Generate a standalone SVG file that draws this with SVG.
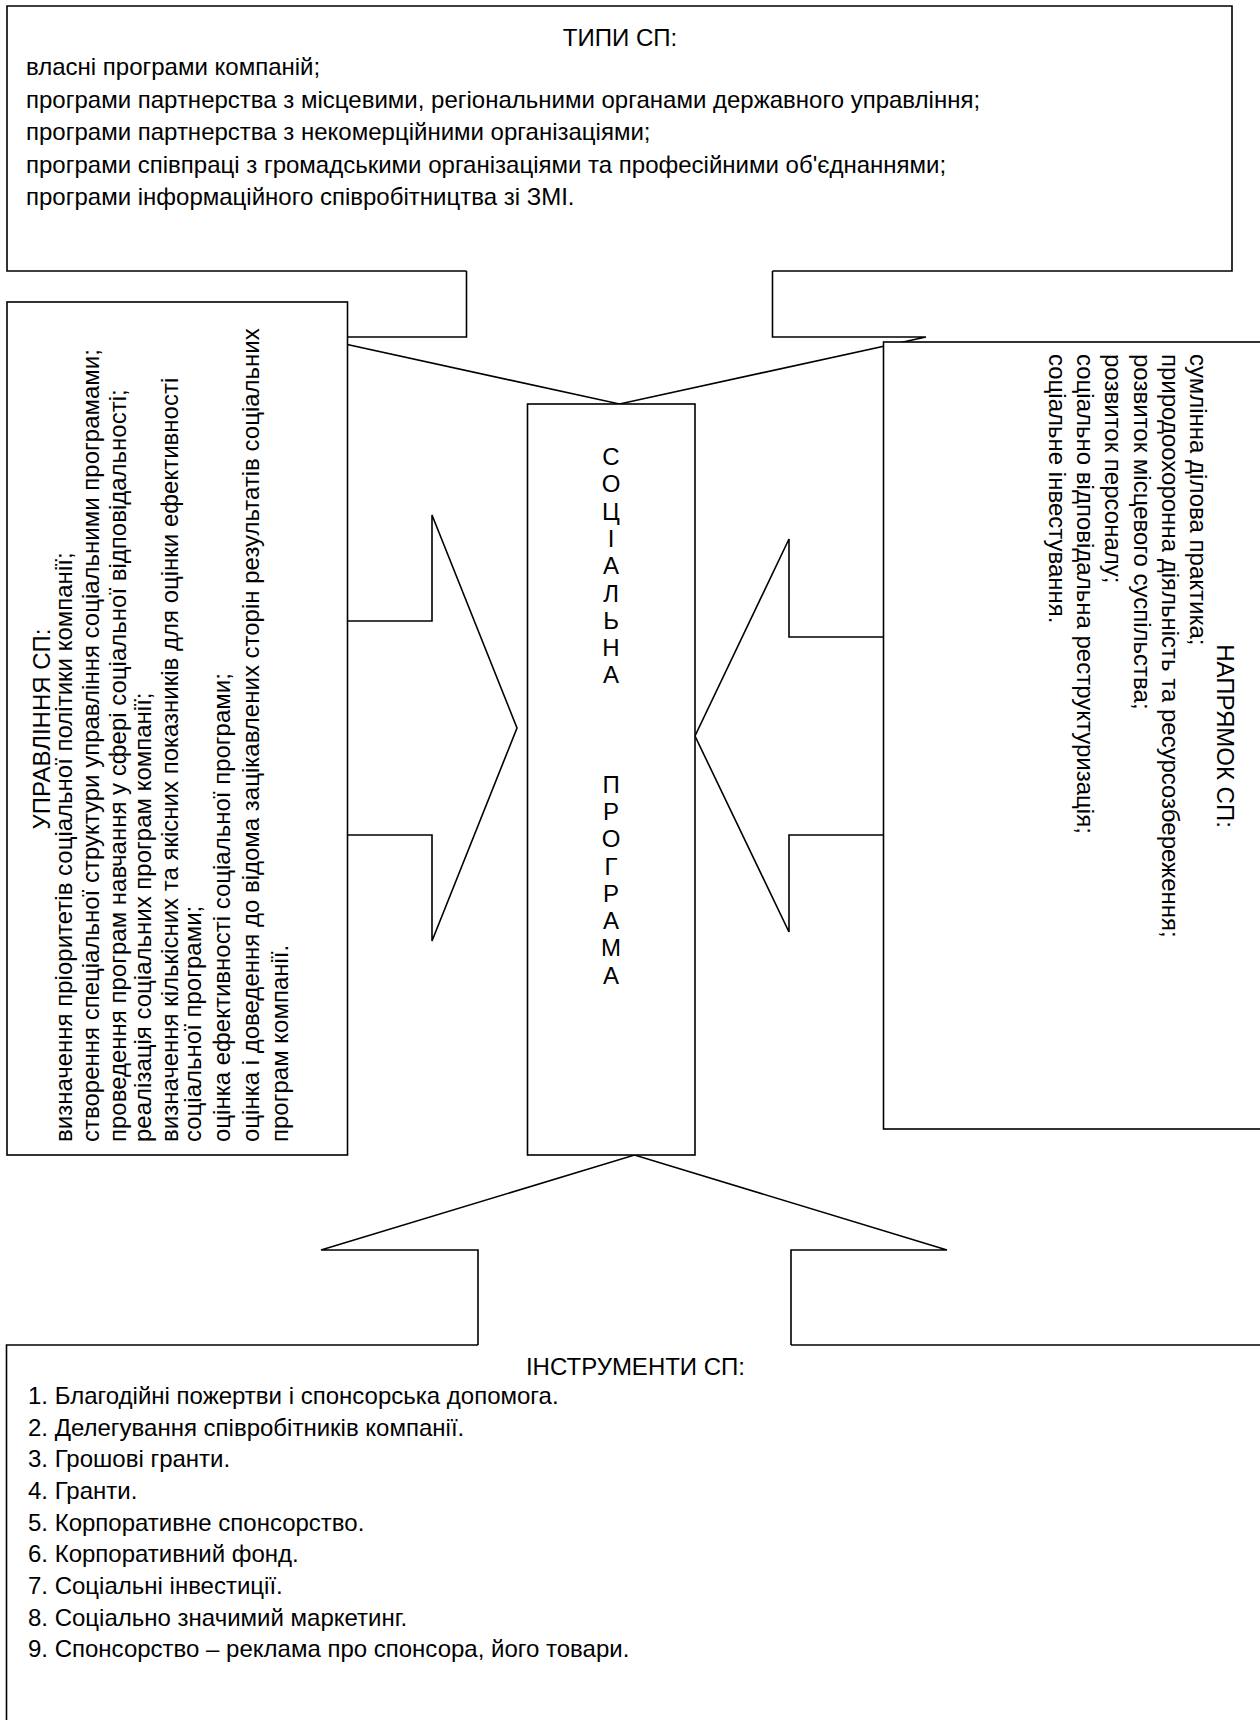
<svg xmlns="http://www.w3.org/2000/svg" width="1260" height="1720" viewBox="0 0 1260 1720">
<style>
.ar{fill:#fff;stroke:#000;stroke-width:1.6;stroke-linejoin:miter}
.bx{fill:#fff;stroke:#000;stroke-width:1.6}
.op{fill:none;stroke:#000;stroke-width:1.6}
text{font-family:"Liberation Sans",Arial,sans-serif;font-size:24px;fill:#000}
.c{text-anchor:middle}
</style>
<rect width="1260" height="1720" fill="#fff"/>
<g id="connectors">
<path class="ar" d="M466.5,271 V337 H313 L619.5,404 L926,337 H772.5 V271"/>
<path class="ar" d="M340,621 H432 V515 L517,728 L432,941 V835 H340"/>
<path class="ar" d="M890,637 H789 V539 L695,736 L789,932 V835 H890"/>
<path class="ar" d="M478,1345 V1250 H321 L634.5,1155 L947,1250 H791 V1345"/>
</g>
<g id="types">
<path class="op" d="M466.5,271 H7 V6 H1232 V271 H772.5"/>
<text class="c" x="620" y="46">ТИПИ СП:</text>
<text x="26" y="75">власні програми компаній;</text>
<text x="26" y="107.5">програми партнерства з місцевими, регіональними органами державного управління;</text>
<text x="26" y="140">програми партнерства з некомерційними організаціями;</text>
<text x="26" y="172.5">програми співпраці з громадськими організаціями та професійними об'єднаннями;</text>
<text x="26" y="205">програми інформаційного співробітництва зі ЗМІ.</text>
</g>
<g id="management">
<rect class="bx" x="7" y="302" width="340.5" height="853"/>
<text class="c" transform="translate(49.5,729) rotate(-90)">УПРАВЛІННЯ СП:</text>
<text transform="translate(72,1142) rotate(-90)">визначення пріоритетів соціальної політики компанії;</text>
<text transform="translate(99,1142) rotate(-90)">створення спеціальної структури управління соціальними програмами;</text>
<text transform="translate(126,1142) rotate(-90)">проведення програм навчання у сфері соціальної відповідальності;</text>
<text transform="translate(151,1142) rotate(-90)">реалізація соціальних програм компанії;</text>
<text transform="translate(178,1142) rotate(-90)">визначення кількісних та якісних показників для оцінки ефективності</text>
<text transform="translate(201,1142) rotate(-90)">соціальної програми;</text>
<text transform="translate(230,1142) rotate(-90)">оцінка ефективності соціальної програми;</text>
<text transform="translate(259,1142) rotate(-90)">оцінка і доведення до відома зацікавлених сторін результатів соціальних</text>
<text transform="translate(288,1142) rotate(-90)">програм компанії.</text>
</g>
<g id="program">
<rect class="bx" x="527.5" y="404" width="167.5" height="751"/>
<g class="c">
<text x="611" y="465">С</text>
<text x="611" y="492.3">О</text>
<text x="611" y="519.6">Ц</text>
<text x="611" y="546.9">І</text>
<text x="611" y="574.2">А</text>
<text x="611" y="601.5">Л</text>
<text x="611" y="628.8">Ь</text>
<text x="611" y="656.1">Н</text>
<text x="611" y="683.4">А</text>
<text x="611" y="792.6">П</text>
<text x="611" y="819.9">Р</text>
<text x="611" y="847.2">О</text>
<text x="611" y="874.5">Г</text>
<text x="611" y="901.8">Р</text>
<text x="611" y="929.1">А</text>
<text x="611" y="956.4">М</text>
<text x="611" y="983.7">А</text>
</g>
</g>
<g id="direction">
<rect class="bx" x="883.5" y="342" width="400" height="787"/>
<text class="c" transform="translate(1217,736) rotate(90)">НАПРЯМОК СП:</text>
<text transform="translate(1190,354) rotate(90)">сумлінна ділова практика;</text>
<text transform="translate(1161.8,354) rotate(90)">природоохоронна діяльність та ресурсозбереження;</text>
<text transform="translate(1133.6,354) rotate(90)">розвиток місцевого суспільства;</text>
<text transform="translate(1105.4,354) rotate(90)">розвиток персоналу;</text>
<text transform="translate(1077.2,354) rotate(90)">соціально відповідальна реструктуризація;</text>
<text transform="translate(1049,354) rotate(90)">соціальне інвестування.</text>
</g>
<g id="tools">
<path class="op" d="M478,1345 H6.5 V1730 M791,1345 H1270"/>
<text class="c" x="635.5" y="1375">ІНСТРУМЕНТИ СП:</text>
<text x="28" y="1404">1. Благодійні пожертви і спонсорська допомога.</text>
<text x="28" y="1435.7">2. Делегування співробітників компанії.</text>
<text x="28" y="1467.3">3. Грошові гранти.</text>
<text x="28" y="1499">4. Гранти.</text>
<text x="28" y="1530.7">5. Корпоративне спонсорство.</text>
<text x="28" y="1562.3">6. Корпоративний фонд.</text>
<text x="28" y="1594">7. Соціальні інвестиції.</text>
<text x="28" y="1625.7">8. Соціально значимий маркетинг.</text>
<text x="28" y="1657.3">9. Спонсорство – реклама про спонсора, його товари.</text>
</g>
</svg>
